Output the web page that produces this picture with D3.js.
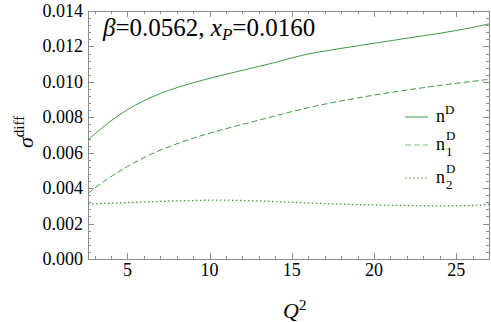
<!DOCTYPE html>
<html>
<head>
<meta charset="utf-8">
<script src="https://cdn.jsdelivr.net/npm/d3@7"></script>
<style>
  body { margin: 0; background: #fff; }
  svg text { font-family: "Liberation Serif", "Times New Roman", Times, "DejaVu Serif", serif; }
</style>
</head>
<body>
<svg id="chart" width="491" height="322"></svg>
<script>
// values
var q2 = [2.6, 3, 4, 5, 6, 7, 8, 9, 10, 11, 12, 13, 14, 15, 16, 17, 18, 19, 20, 21, 22, 23, 24, 25, 26, 27];
var nD = [0.00672, 0.00705, 0.00780, 0.00843, 0.00893, 0.00934, 0.00967, 0.00995, 0.01020, 0.01043, 0.01065, 0.01087, 0.01110, 0.01135, 0.01157, 0.01174, 0.01189, 0.01203, 0.01218, 0.01232, 0.01246, 0.01260, 0.01274, 0.01290, 0.01307, 0.01327];
var n1D = [0.00371, 0.00400, 0.00465, 0.00522, 0.00572, 0.00614, 0.00650, 0.00682, 0.00710, 0.00736, 0.00760, 0.00784, 0.00808, 0.00832, 0.00854, 0.00874, 0.00892, 0.00909, 0.00925, 0.00940, 0.00954, 0.00967, 0.00980, 0.00992, 0.01003, 0.01014];
var n2D = [0.00310, 0.00312, 0.00315, 0.00318, 0.00322, 0.00325, 0.00328, 0.00330, 0.00332, 0.00332, 0.00330, 0.00328, 0.00324, 0.00320, 0.00316, 0.00313, 0.00310, 0.00307, 0.00305, 0.00303, 0.00302, 0.00301, 0.00300, 0.00301, 0.00302, 0.00308];
var xTicks = [5, 10, 15, 20, 25];
var yTicks = [0, 0.002, 0.004, 0.006, 0.008, 0.010, 0.012, 0.014];
var seriesNames = ['nD', 'n1D', 'n2D'];
var seriesSub = ['', '1', '2'];

var serif = '"Liberation Serif", "Times New Roman", Times, "DejaVu Serif", serif';
var green = '#3f9c3f';
var frameCol = '#8c8c8c';
var padL = 88, padR = 489, padT = 11, padB = 259;

var svg = d3.select('#chart');
var x = d3.scaleLinear().domain([2.6, 27]).range([padL, padR]);
var y = d3.scaleLinear().domain([0, 0.014]).range([padB, padT]);

// frame
svg.append('rect')
	.attr('x', padL + 0.5).attr('y', padT + 0.5)
	.attr('width', padR - padL).attr('height', padB - padT)
	.attr('fill', 'none').attr('stroke', frameCol).attr('stroke-width', 1);

// minor + major ticks, inward on all four sides
var xMinor = d3.range(3, 28, 1);
var yMinor = d3.range(0, 35, 1);
var tickG = svg.append('g').attr('stroke', frameCol).attr('stroke-width', 1);
xMinor.forEach(function(v){
	var big = v % 5 == 0;
	var len = big ? 6 : 3;
	var px = Math.round(x(v)) + 0.5;
	tickG.append('line').attr('x1', px).attr('x2', px).attr('y1', padB).attr('y2', padB - len);
	tickG.append('line').attr('x1', px).attr('x2', px).attr('y1', padT).attr('y2', padT + len);
});
yMinor.forEach(function(i){
	var big = i % 5 == 0;
	var len = big ? 6 : 3;
	var py = Math.round(y(i * 0.0004)) + 0.5;
	tickG.append('line').attr('x1', padL).attr('x2', padL + len).attr('y1', py).attr('y2', py);
	tickG.append('line').attr('x1', padR).attr('x2', padR - len).attr('y1', py).attr('y2', py);
});

// tick labels
svg.selectAll('.xl').data(xTicks).enter().append('text')
	.attr('x', function(d){ return x(d); })
	.attr('y', 276)
	.attr('text-anchor', 'middle')
	.style('font-family', serif)
	.style('font-size', '18px')
	.text(function(d){ return d; });
svg.selectAll('.yl').data(yTicks).enter().append('text')
	.attr('x', 83)
	.attr('y', function(d){ return y(d) + 6; })
	.attr('text-anchor', 'end')
	.style('font-family', serif)
	.style('font-size', '18px')
	.text(function(d){ return d3.format('.3f')(d); });

// axis titles
var xt = svg.append('text').attr('x', 283).attr('y', 318).style('font-family', serif).style('font-size', '22px');
xt.append('tspan').style('font-style', 'italic').text('Q');
xt.append('tspan').attr('dy', -8).style('font-size', '15px').text('2');

var yt = svg.append('text').attr('transform', 'translate(33,148) rotate(-90)').style('font-family', serif).style('font-size', '22px');
yt.append('tspan').style('font-style', 'italic').text('σ');
yt.append('tspan').attr('dy', -9).style('font-size', '15px').text('diff');

// curves
var allSeries = [nD, n1D, n2D];
var dashes = [null, '6,3', '1.5,2.5'];
var line = d3.line()
	.x(function(d, i){ return x(q2[i]); })
	.y(function(d){ return y(d); })
	.curve(d3.curveMonotoneX);
allSeries.forEach(function(s, k){
	svg.append('path')
		.datum(s)
		.attr('d', line)
		.attr('fill', 'none')
		.attr('stroke', green)
		.attr('stroke-width', k == 2 ? 1.3 : 1)
		.attr('stroke-dasharray', dashes[k]);
});

// legend
var legY = [117, 145, 178];
seriesNames.forEach(function(n, k){
	svg.append('line')
		.attr('x1', 405).attr('x2', 428)
		.attr('y1', legY[k]).attr('y2', legY[k])
		.attr('stroke', green)
		.attr('stroke-opacity', k == 0 ? 1 : 0.7)
		.attr('stroke-width', k == 2 ? 1.3 : 1)
		.attr('stroke-dasharray', dashes[k]);
	var t = svg.append('text').attr('x', 436).attr('y', legY[k] + 5).style('font-family', serif).style('font-size', '18px');
	t.append('tspan').text('n');
	if(seriesSub[k]){
		t.append('tspan').attr('x', 446).attr('dy', 6).style('font-size', '13px').text(seriesSub[k]);
		t.append('tspan').attr('x', 446).attr('dy', -16).style('font-size', '13px').text('D');
	}
	else{
		t.append('tspan').attr('dy', -8).style('font-size', '13px').text('D');
	}
});

// parameter label
var pt = svg.append('text').attr('x', 103).attr('y', 36).style('font-family', serif).style('font-size', '25px');
pt.append('tspan').style('font-style', 'italic').text('β');
pt.append('tspan').text('=0.0562, ');
pt.append('tspan').style('font-style', 'italic').text('x');
pt.append('tspan').attr('dy', 4).style('font-style', 'italic').style('font-size', '17px').text('P');
pt.append('tspan').attr('dy', -4).text('=0.0160');
</script>
</body>
</html>
